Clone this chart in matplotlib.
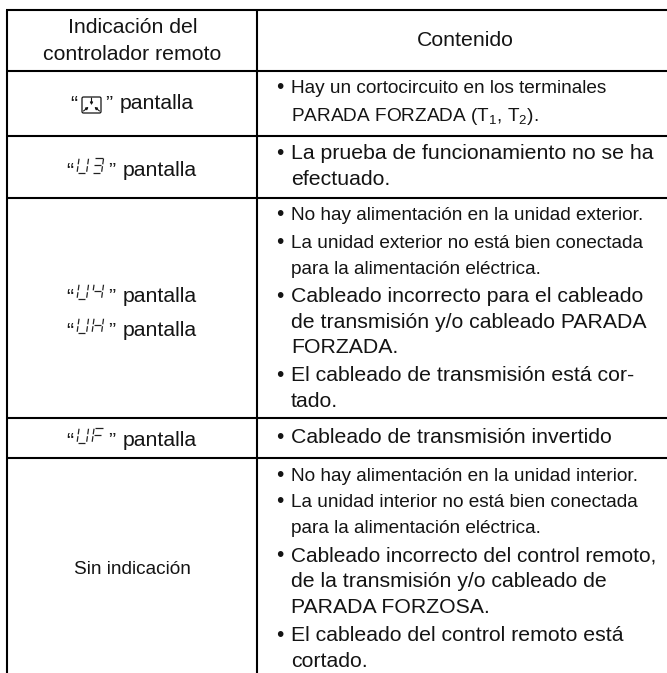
import matplotlib.pyplot as plt
from matplotlib.patches import FancyBboxPatch

plt.rcParams['font.family'] = ['Liberation Sans', 'DejaVu Sans']
plt.rcParams['mathtext.default'] = 'regular'

INK = '#141414'
BIG = 15.3
SMALL = 13.7

# table grid, in pixels of the page
row_lines = [10, 70.5, 135.5, 197.5, 418, 457.5]
col_lines = [7, 257]

header_left = ["Indicación del", "controlador remoto"]
header_left_y = [33, 59.5]
header_right = "Contenido"

# display codes of the remote controller
codes = ["U3", "U4", "UH", "UF"]
code_y = [176, 302, 336, 446]

# right column: text, baseline, has bullet, font size
lines = [
    "Hay un cortocircuito en los terminales",
    "PARADA FORZADA (T$_1$, T$_2$).",
    "La prueba de funcionamiento no se ha",
    "efectuado.",
    "No hay alimentación en la unidad exterior.",
    "La unidad exterior no está bien conectada",
    "para la alimentación eléctrica.",
    "Cableado incorrecto para el cableado",
    "de transmisión y/o cableado PARADA",
    "FORZADA.",
    "El cableado de transmisión está cor-",
    "tado.",
    "Cableado de transmisión invertido",
    "No hay alimentación en la unidad interior.",
    "La unidad interior no está bien conectada",
    "para la alimentación eléctrica.",
    "Cableado incorrecto del control remoto,",
    "de la transmisión y/o cableado de",
    "PARADA FORZOSA.",
    "El cableado del control remoto está",
    "cortado.",
]
line_y = [93, 121, 159, 185, 220, 248, 274, 302, 328, 353, 381, 407, 443,
          481, 507, 533, 561, 587, 613, 641, 667]
bullet = [1, 0, 1, 0, 1, 1, 0, 1, 0, 0, 1, 0, 1, 1, 1, 0, 1, 0, 0, 1, 0]
sizes = [SMALL, SMALL, BIG, BIG, SMALL, SMALL, SMALL, BIG, BIG, BIG, BIG, BIG, BIG,
         SMALL, SMALL, SMALL, 15.0, BIG, BIG, BIG, BIG]

# which segments each character lights up
segments = {
    'U': 'bcdef',
    '3': 'abcdg',
    '4': 'bcfg',
    'H': 'bcefg',
    'F': 'aefg',
}
seg_ends = {
    'a': ((0.12, 1), (0.88, 1)),
    'b': ((1, 0.92), (1, 0.56)),
    'c': ((1, 0.44), (1, 0.08)),
    'd': ((0.12, 0), (0.88, 0)),
    'e': ((0, 0.44), (0, 0.08)),
    'f': ((0, 0.92), (0, 0.56)),
    'g': ((0.12, 0.5), (0.88, 0.5)),
}


def draw_char(ax, ch, x, base, w=9.5, h=15.5, skew=2.2):
    for s in segments[ch]:
        (x0, y0), (x1, y1) = seg_ends[s]
        ax.plot([x + x0 * w + y0 * skew, x + x1 * w + y1 * skew],
                [base - y0 * h, base - y1 * h],
                color='#222222', lw=0.9, solid_capstyle='butt')


def draw_fan_icon(ax, x0, y0, x1, y1):
    ax.add_patch(FancyBboxPatch((x0 + 1, y0 + 1), x1 - x0 - 2, y1 - y0 - 2,
                                boxstyle='round,pad=0,rounding_size=1.5',
                                fill=False, ec=INK, lw=0.9))
    cx = (x0 + x1) / 2
    head = '-|>,head_width=0.08,head_length=0.14'
    ax.annotate('', xy=(cx, y0 + 9), xytext=(cx, y0 + 2),
                arrowprops=dict(arrowstyle=head, color=INK, lw=0.8, shrinkA=0, shrinkB=0))
    ax.annotate('', xy=(cx - 3, y0 + 11), xytext=(cx - 8, y0 + 15),
                arrowprops=dict(arrowstyle=head, color=INK, lw=0.8, shrinkA=0, shrinkB=0))
    ax.annotate('', xy=(cx + 3, y0 + 11), xytext=(cx + 8, y0 + 15),
                arrowprops=dict(arrowstyle=head, color=INK, lw=0.8, shrinkA=0, shrinkB=0))


fig = plt.figure(figsize=(6.67, 6.73), dpi=100)
ax = fig.add_axes([0, 0, 1, 1])
ax.set_xlim(0, 667)
ax.set_ylim(673, 0)
ax.axis('off')

for y in row_lines:
    ax.plot([6, 667], [y, y], color='black', lw=1.5, solid_capstyle='butt')
for x in col_lines:
    ax.plot([x, x], [9.5, 673], color='black', lw=1.5, solid_capstyle='butt')

for txt, y in zip(header_left, header_left_y):
    ax.text(132.5, y, txt, ha='center', va='baseline', fontsize=BIG, color=INK)
ax.text(465, 46, header_right, ha='center', va='baseline', fontsize=BIG, color=INK)

# first row has the icon instead of a code
ax.text(70, 109, "“", ha='left', va='baseline', fontsize=BIG, color=INK)
draw_fan_icon(ax, 81, 96, 102, 114)
ax.text(105, 109, "”", ha='left', va='baseline', fontsize=BIG, color=INK)
ax.text(120, 109, "pantalla", ha='left', va='baseline', fontsize=BIG, color=INK)

for code, y in zip(codes, code_y):
    ax.text(66, y, "“", ha='left', va='baseline', fontsize=BIG, color=INK)
    draw_char(ax, code[0], 77, y - 3)
    draw_char(ax, code[1], 92, y - 3)
    ax.text(108, y, "”", ha='left', va='baseline', fontsize=BIG, color=INK)
    ax.text(123, y, "pantalla", ha='left', va='baseline', fontsize=BIG, color=INK)

ax.text(132, 574, "Sin indicación", ha='center', va='baseline', fontsize=SMALL, color=INK)

for txt, y, b, fs in zip(lines, line_y, bullet, sizes):
    if b:
        ax.text(279.5, y, "•", ha='center', va='baseline', fontsize=15, color=INK)
    ax.text(291, y, txt, ha='left', va='baseline', fontsize=fs, color=INK)

fig.savefig("out.png", dpi=100)
